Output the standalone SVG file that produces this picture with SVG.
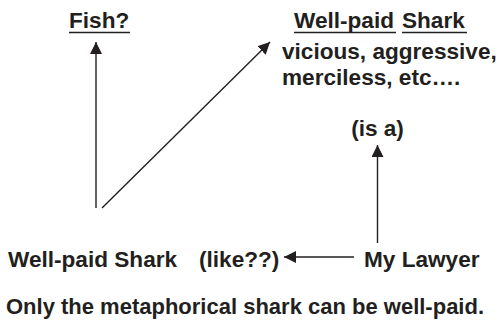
<svg xmlns="http://www.w3.org/2000/svg" width="499" height="321" viewBox="0 0 499 321">
<style>
text{font-family:"Liberation Sans",Arial,sans-serif;font-weight:bold;font-size:22.6px;fill:#231f20}
.cap{font-size:22px}
.ul{stroke:#231f20;stroke-width:1.5}
.c{stroke:#231f20;stroke-width:1.4;fill:none}
</style>
<defs>
<marker id="ah" viewBox="0 0 12 12" refX="12" refY="6" markerWidth="12" markerHeight="12" markerUnits="userSpaceOnUse" orient="auto">
<path d="M0,0 L12,6 L0,12 Z" fill="#231f20"/>
</marker>
</defs>
<rect width="499" height="321" fill="#fff"/>
<g id="fish">
<text x="69" y="28">Fish?</text>
<line class="ul" x1="69" y1="32.5" x2="130" y2="32.5"/>
</g>
<g id="shark-top">
<text x="294" y="28">Well-paid <tspan x="402">Shark</tspan></text>
<line class="ul" x1="294" y1="32.5" x2="396" y2="32.5"/>
<line class="ul" x1="402" y1="32.5" x2="467" y2="32.5"/>
<text x="282" y="59">vicious, aggressive,</text>
<text x="282" y="85">merciless, etc….</text>
</g>
<g id="isa">
<text x="377.5" y="136" text-anchor="middle">(is a)</text>
</g>
<g id="shark-bottom">
<text x="8" y="267">Well-paid Shark</text>
</g>
<g id="like">
<text x="199" y="267">(like??)</text>
</g>
<g id="lawyer">
<text x="364" y="267">My Lawyer</text>
</g>
<g id="caption">
<text class="cap" x="6" y="314">Only the metaphorical shark can be well-paid.</text>
</g>
<g id="connectors">
<line class="c" x1="96" y1="208" x2="96" y2="42" marker-end="url(#ah)"/>
<line class="c" x1="102" y1="208" x2="270" y2="42" marker-end="url(#ah)"/>
<line class="c" x1="377.5" y1="243" x2="377.5" y2="145" marker-end="url(#ah)"/>
<line class="c" x1="354" y1="257" x2="284" y2="257" marker-end="url(#ah)"/>
</g>
</svg>
